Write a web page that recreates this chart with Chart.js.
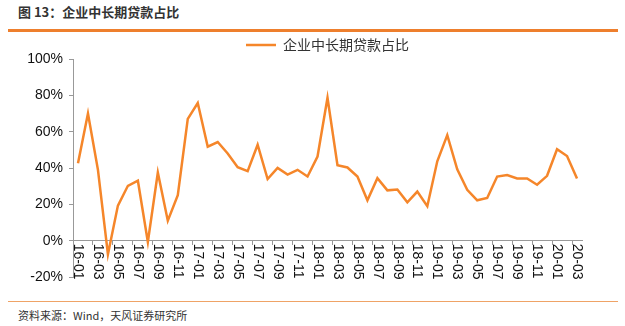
<!DOCTYPE html>
<html>
<head>
<meta charset="utf-8">
<script src="https://cdn.jsdelivr.net/npm/chart.js@4"></script>
<style>
    body { margin: 0; width: 625px; height: 326px; background: #fff; position: relative; overflow: hidden; }
    #title { position: absolute; left: 18px; top: 4px; font: bold 13px "Noto Sans CJK SC", sans-serif; line-height: 16px; color: #333; }
    .rule { position: absolute; left: 8px; width: 610px; background: #EE7F2D; }
    .rule.top { top: 29px; height: 3px; }
    .rule.bottom { top: 301px; height: 1px; background: #EFA366; }
    #chartBox { position: absolute; left: 0; top: 30px; width: 625px; height: 270px; }
    #source { position: absolute; left: 18px; top: 307px; font: 11px "Noto Sans CJK SC", sans-serif; line-height: 16px; color: #333; }
</style>
</head>
<body>
<div id="title">图 13：企业中长期贷款占比</div>
<div class="rule top"></div>
<div id="chartBox"><canvas id="loanChart"></canvas></div>
<div class="rule bottom"></div>
<div id="source">资料来源：Wind，天风证券研究所</div>

<script>
// --- DATA ---
const months = [
    '16-01', '16-02', '16-03', '16-04', '16-05', '16-06', '16-07', '16-08', '16-09', '16-10', '16-11', '16-12',
    '17-01', '17-02', '17-03', '17-04', '17-05', '17-06', '17-07', '17-08', '17-09', '17-10', '17-11', '17-12',
    '18-01', '18-02', '18-03', '18-04', '18-05', '18-06', '18-07', '18-08', '18-09', '18-10', '18-11', '18-12',
    '19-01', '19-02', '19-03', '19-04', '19-05', '19-06', '19-07', '19-08', '19-09', '19-10', '19-11', '19-12',
    '20-01', '20-02', '20-03'
];

// 企业中长期贷款占比 (%)
const longTermShare = [
    42.6, 70, 39, -7.5, 19.3, 30.2, 33, -0.7, 37.5, 11, 25, 67,
    75.8, 51.7, 54.3, 48, 40.4, 38.3, 52.8, 33.9, 40, 36.4, 39, 35.3,
    46.3, 78.7, 41.5, 40.3, 35.3, 22.2, 34.4, 27.7, 28.2, 21.1, 27, 19,
    43.7, 58.1, 39.3, 28, 22.2, 23.5, 35.3, 36.1, 34.2, 34.2, 30.8, 35.7,
    50.3, 46.6, 34.2
];

const seriesName = '企业中长期贷款占比';
const yTicks = { min: -20, max: 100, step: 20 };

const LINE_COLOR = '#F5862A';
const AXIS_COLOR = '#999';

// --- label x bawah sumbu 0, diputar searah jarum jam ---
const verticalLabels = {
    id: 'verticalLabels',
    afterDraw(chart) {
        const { ctx, scales: { x, y } } = chart;
        const y0 = y.getPixelForValue(0);
        ctx.save();
        ctx.font = '14px "Liberation Sans", Arial, sans-serif';
        ctx.fillStyle = '#111';
        ctx.textAlign = 'left';
        ctx.textBaseline = 'middle';
        months.forEach((m, i) => {
            if (i % 2) return;
            ctx.save();
            ctx.translate(x.getPixelForValue(i), y0 + 3);
            ctx.rotate(Math.PI / 2);
            ctx.fillText(m, 0, 0);
            ctx.restore();
        });
        ctx.restore();
    }
};

// legend lebih rapat ke area plot (kurangi tinggi kotak legend)
const tightLegend = {
    id: 'tightLegend',
    beforeUpdate(chart) {
        const lg = chart.legend;
        if (!lg || lg._tight) return;
        const fit = lg.fit.bind(lg);
        lg.fit = function () { fit(); this.height -= 3; };
        lg._tight = true;
    }
};

function drawChart() {
    const ctx = document.getElementById('loanChart').getContext('2d');
    new Chart(ctx, {
        type: 'line',
        data: {
            labels: months,
            datasets: [{
                label: seriesName,
                data: longTermShare,
                borderColor: LINE_COLOR,
                backgroundColor: LINE_COLOR,
                borderWidth: 2.5,
                pointRadius: 0,
                tension: 0,
                fill: false
            }]
        },
        options: {
            responsive: true,
            maintainAspectRatio: false,
            animation: false,
            layout: { padding: { top: 4, right: 43, bottom: 23, left: 0 } },
            plugins: {
                tooltip: { enabled: false },
                legend: {
                    fullSize: false,
                    labels: {
                        usePointStyle: true,
                        pointStyle: 'line',
                        pointStyleWidth: 30,
                        boxHeight: 14,
                        padding: 4,
                        color: '#333',
                        font: { family: '"Noto Sans CJK SC", sans-serif', size: 14 }
                    }
                }
            },
            scales: {
                x: {
                    type: 'category',
                    offset: true,
                    position: { y: 0 },
                    grid: {
                        offset: true,
                        drawOnChartArea: false,
                        drawTicks: true,
                        tickLength: 4,
                        color: c => c.index % 2 === 0 ? AXIS_COLOR : 'rgba(0,0,0,0)'
                    },
                    border: { color: AXIS_COLOR },
                    ticks: { display: false, autoSkip: false }
                },
                y: {
                    min: yTicks.min,
                    max: yTicks.max,
                    afterFit: s => { s.width = 73; },
                    grid: { drawOnChartArea: false, drawTicks: true, tickLength: 4, color: AXIS_COLOR },
                    border: { color: AXIS_COLOR },
                    ticks: {
                        stepSize: yTicks.step,
                        padding: 6,
                        color: '#111',
                        font: { family: '"Liberation Sans", Arial, sans-serif', size: 14 },
                        callback: v => v + '%'
                    }
                }
            }
        },
        plugins: [tightLegend, verticalLabels]
    });
}

document.addEventListener('DOMContentLoaded', drawChart);
</script>
</body>
</html>
